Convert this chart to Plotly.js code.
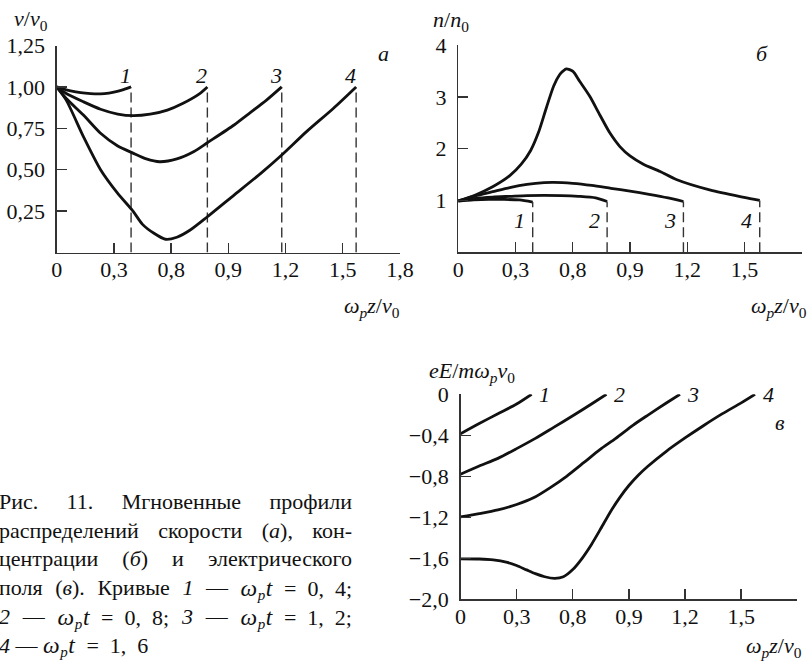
<!DOCTYPE html>
<html>
<head>
<meta charset="utf-8">
<script src="https://cdn.plot.ly/plotly-3.0.1.min.js"></script>
<style>
  html, body { margin: 0; padding: 0; background: #fff; }
  #chart { position: absolute; left: 0; top: 0; width: 811px; height: 662px; }
  #caption {
    position: absolute; left: -1px; top: 488px; width: 353px;
    font-family: 'Liberation Serif', serif; font-size: 22px; color: #111;
  }
  #caption .ln { display: flex; justify-content: space-between; height: 28.7px; line-height: 28.7px; white-space: nowrap; font-size: 22px; }
  #caption .ln.last { display: block; }
  #caption span { font-size: 22px; }
  #caption .m { font-size: 23.5px; letter-spacing: 0.6px; }
  #caption sub { font-size: 15px; vertical-align: -0.25em; line-height: 0; }
</style>
</head>
<body>
<div id="chart"></div>
<div id="caption"></div>
<script>
// Horizontal coordinate ω_p z / v0 and tick labels shared by all three panels
const tickX = [0, 0.3, 0.6, 0.9, 1.2, 1.5, 1.8];
const tickXText = ['0', '0,3', '0,8', '0,9', '1,2', '1,5', '1,8'];

// Panel а: velocity profiles v/v0
const tickV = [0.25, 0.5, 0.75, 1.0, 1.25];
const tickVText = ['0,25', '0,50', '0,75', '1,00', '1,25'];
const zV1 = [0, 0.05, 0.10, 0.15, 0.20, 0.25, 0.30, 0.35, 0.39];
const v1  = [1.00, 0.982, 0.970, 0.962, 0.958, 0.960, 0.969, 0.984, 1.00];
const zV2 = [0, 0.05, 0.14, 0.23, 0.32, 0.40, 0.49, 0.58, 0.66, 0.75, 0.79];
const v2  = [1.00, 0.96, 0.91, 0.865, 0.836, 0.826, 0.835, 0.86, 0.90, 0.96, 1.00];
const zV3 = [0, 0.05, 0.14, 0.23, 0.32, 0.40, 0.47, 0.54, 0.63, 0.72, 0.79, 0.93, 1.01, 1.10, 1.18];
const v3  = [1.00, 0.93, 0.83, 0.72, 0.643, 0.60, 0.565, 0.548, 0.565, 0.61, 0.663, 0.77, 0.84, 0.92, 1.00];
const zV4 = [0, 0.05, 0.14, 0.23, 0.32, 0.40, 0.45, 0.51, 0.57, 0.63, 0.70, 0.79, 0.93, 1.07, 1.18, 1.31, 1.45, 1.57];
const v4  = [1.00, 0.92, 0.70, 0.50, 0.357, 0.25, 0.17, 0.116, 0.08, 0.092, 0.136, 0.216, 0.347, 0.478, 0.589, 0.73, 0.87, 1.00];

// Panel б: density profiles n/n0
const tickN = [1, 2, 3, 4];
const tickNText = ['1', '2', '3', '4'];
const zN1 = [0, 0.08, 0.16, 0.24, 0.32, 0.39];
const n1  = [0.99, 1.01, 1.02, 1.02, 1.01, 0.97];
const zN2 = [0, 0.09, 0.18, 0.27, 0.36, 0.45, 0.54, 0.63, 0.72, 0.78];
const n2  = [0.99, 1.04, 1.065, 1.08, 1.095, 1.10, 1.095, 1.08, 1.05, 0.98];
const zN3 = [0, 0.09, 0.18, 0.27, 0.36, 0.45, 0.50, 0.60, 0.70, 0.80, 0.90, 1.00, 1.10, 1.18];
const n3  = [0.99, 1.09, 1.17, 1.25, 1.31, 1.345, 1.35, 1.33, 1.29, 1.235, 1.18, 1.12, 1.05, 0.98];
const zN4 = [0, 0.09, 0.18, 0.27, 0.33, 0.38, 0.42, 0.46, 0.50, 0.53, 0.55, 0.566, 0.601, 0.636, 0.689, 0.742, 0.795, 0.847, 0.90, 0.97, 1.058, 1.146, 1.322, 1.498, 1.58];
const n4  = [0.99, 1.107, 1.265, 1.48, 1.70, 1.97, 2.31, 2.77, 3.21, 3.42, 3.50, 3.54, 3.49, 3.30, 3.01, 2.65, 2.30, 2.04, 1.86, 1.70, 1.56, 1.40, 1.20, 1.06, 1.00];

// Panel в: electric field profiles eE/(m ω_p v0)
const tickE = [0, -0.4, -0.8, -1.2, -1.6, -2.0];
const tickEText = ['0', '\u22120,4', '\u22120,8', '\u22121,2', '\u22121,6', '\u22122,0'];
const zE1 = [0, 0.1, 0.2, 0.3, 0.38];
const e1  = [-0.385, -0.285, -0.19, -0.095, 0];
const zE2 = [0, 0.1, 0.2, 0.3, 0.4, 0.5, 0.6, 0.7, 0.78];
const e2  = [-0.78, -0.70, -0.625, -0.53, -0.43, -0.32, -0.21, -0.095, 0];
const zE3 = [0, 0.1, 0.2, 0.3, 0.39, 0.48, 0.567, 0.66, 0.745, 0.83, 0.923, 1.0, 1.1, 1.173];
const e3  = [-1.197, -1.165, -1.128, -1.075, -1.01, -0.91, -0.80, -0.665, -0.54, -0.43, -0.30, -0.205, -0.085, 0];
const zE4 = [0, 0.1, 0.175, 0.25, 0.3, 0.353, 0.4, 0.45, 0.504, 0.55, 0.6, 0.65, 0.7, 0.75, 0.8, 0.85, 0.9, 0.95, 1.0, 1.1, 1.2, 1.3, 1.4, 1.5, 1.574];
const e4  = [-1.605, -1.607, -1.615, -1.64, -1.67, -1.713, -1.75, -1.78, -1.795, -1.78, -1.71, -1.60, -1.465, -1.31, -1.15, -1.01, -0.89, -0.79, -0.705, -0.556, -0.426, -0.304, -0.189, -0.084, 0];

const curveLabels = ['1', '2', '3', '4'];

// ---- page geometry (pixels -> paper fractions) ----
const W = 811, H = 662;
const fx = p => p / W;
const fy = p => 1 - p / H;

const INK = '#111';
const AXC = '#333';
const SERIF = 'Liberation Serif';

function curve(x, y, xa, ya) {
  return { x, y, xaxis: xa, yaxis: ya, mode: 'lines', type: 'scatter',
    line: { color: INK, width: 2.8, shape: 'spline', smoothing: 0.7 }, hoverinfo: 'skip' };
}
function drop(x, y, xa, ya) {
  // vertical dashed line from the end of a profile down to the axis
  const xe = x[x.length - 1], ye = y[y.length - 1];
  return { x: [xe, xe], y: [0, ye], xaxis: xa, yaxis: ya, mode: 'lines', type: 'scatter',
    line: { color: AXC, width: 1.4, dash: '10px,5px' }, hoverinfo: 'skip' };
}

const setV = [[zV1, v1], [zV2, v2], [zV3, v3], [zV4, v4]];
const setN = [[zN1, n1], [zN2, n2], [zN3, n3], [zN4, n4]];
const setE = [[zE1, e1], [zE2, e2], [zE3, e3], [zE4, e4]];

const traces = [];
setV.forEach(([x, y]) => { traces.push(curve(x, y, 'x', 'y')); traces.push(drop(x, y, 'x', 'y')); });
setN.forEach(([x, y]) => { traces.push(curve(x, y, 'x2', 'y2')); traces.push(drop(x, y, 'x2', 'y2')); });
setE.forEach(([x, y]) => { traces.push(curve(x, y, 'x3', 'y3')); });

function axis(domain, range, vals, text, anchor, standoff) {
  return {
    domain, range, anchor, tickmode: 'array', tickvals: vals, ticktext: text,
    ticks: 'inside', ticklen: 10, tickwidth: 1.4, tickcolor: AXC,
    showline: true, linecolor: AXC, linewidth: 1.4,
    showgrid: false, zeroline: false, fixedrange: true,
    ticklabelstandoff: standoff,
    tickfont: { family: SERIF, size: 22, color: INK }
  };
}

const annotations = [];
function note(text, x, y, xanchor, yanchor, size) {
  annotations.push({ text, x, y, xref: 'paper', yref: 'paper', xanchor, yanchor,
    showarrow: false, font: { family: SERIF, size: size || 22, color: INK } });
}

// axis titles
const xTitle = '<i>ω</i><sub><i>p</i></sub><i>z</i>/<i>v</i><sub>0</sub>';
note('<i>v</i>/<i>v</i><sub>0</sub>', fx(12), fy(20), 'left', 'middle');
note(xTitle, fx(402), fy(307), 'right', 'middle');
note('<i>n</i>/<i>n</i><sub>0</sub>', fx(431), fy(21), 'left', 'middle');
note(xTitle, fx(809), fy(307), 'right', 'middle');
note('<i>eE</i>/<i>mω</i><sub><i>p</i></sub><i>v</i><sub>0</sub>', fx(427), fy(372), 'left', 'middle');
note(xTitle, fx(804), fy(647), 'right', 'middle');

// panel letters
note('<i>а</i>', fx(383), fy(53), 'center', 'middle');
note('<i>б</i>', fx(762), fy(53), 'center', 'middle');
note('<i>в</i>', fx(780), fy(423), 'center', 'middle');

// curve numbers, attached to the end of each profile
function label(set, xa, ya, yval, dx, dy) {
  set.forEach(([x, y], i) => {
    annotations.push({ text: '<i>' + curveLabels[i] + '</i>', x: x[x.length - 1],
      y: yval === null ? y[y.length - 1] : yval, xref: xa, yref: ya,
      xshift: dx, yshift: dy, showarrow: false, xanchor: 'center', yanchor: 'middle',
      font: { family: SERIF, size: 22, color: INK } });
  });
}
label(setV, 'x', 'y', null, -6, 11);
label(setN, 'x2', 'y2', 0.62, -13, 0);
label(setE, 'x3', 'y3', 0, 13, 0);

const layout = {
  width: W, height: H, margin: { l: 0, r: 0, t: 0, b: 0 },
  paper_bgcolor: '#fff', plot_bgcolor: 'rgba(0,0,0,0)', showlegend: false,
  font: { family: SERIF, color: INK, size: 22 },
  xaxis:  axis([fx(56.7), fx(400)], [0, 1.8], tickX, tickXText, 'y', -3),
  yaxis:  axis([fy(252.5), fy(45.5)], [0, 1.25], tickV, tickVText, 'x', 6),
  xaxis2: axis([fx(458.3), fx(801.7)], [0, 1.8], tickX, tickXText, 'y2', -3),
  yaxis2: axis([fy(252.3), fy(45)], [0, 4], tickN, tickNText, 'x2', 6),
  xaxis3: axis([fx(460.5), fx(797.3)], [0, 1.8], tickX, tickXText, 'y3', -3),
  yaxis3: axis([fy(599.3), fy(394.3)], [-2, 0], tickE, tickEText, 'x3', 6),
  annotations
};

Plotly.newPlot('chart', traces, layout, { staticPlot: true, displayModeBar: false });

// figure caption, set line by line with justified spacing
const math = v => '<span class="m"><i>ω<sub>p</sub>t</i></span>&ensp;=&ensp;' + v;
const captionLines = [
  ['Рис.', '11.', 'Мгновенные', 'профили'],
  ['распределений', 'скорости', '(<i>а</i>),', 'кон-'],
  ['центрации', '(<i>б</i>)', 'и', 'электрического'],
  ['поля', '(<i>в</i>).', 'Кривые', '<i>1</i>', '—', math('0,&ensp;4;')],
  ['<i>2</i>', '—', math('0,&ensp;8;'), '<i>3</i>', '—', math('1,&ensp;2;')],
  ['<i>4</i>', '—', math('1,&ensp;6')]
];
const cap = document.getElementById('caption');
captionLines.forEach((words, i) => {
  const row = document.createElement('div');
  row.className = 'ln' + (i === captionLines.length - 1 ? ' last' : '');
  if (i === captionLines.length - 1) {
    row.innerHTML = words.join(' ');
  } else {
    words.forEach(w => { const s = document.createElement('span'); s.innerHTML = w; row.appendChild(s); });
  }
  cap.appendChild(row);
});
</script>
</body>
</html>
